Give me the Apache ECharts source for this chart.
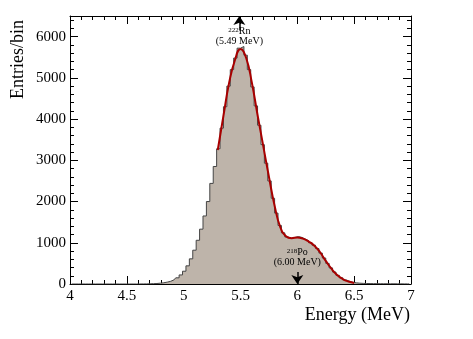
<!DOCTYPE html>
<html>
<head>
<meta charset="utf-8">
<script src="https://cdn.jsdelivr.net/npm/echarts@6/dist/echarts.min.js"></script>
<style>
  html, body { margin: 0; padding: 0; background: #fff; }
  #chart { width: 473px; height: 339px; }
</style>
</head>
<body>
<div id="chart"></div>
<script>
// histogram binning: 100 bins from 4 to 7 MeV
const binLow = 4.0
const binWidth = 0.03
const counts = [
  0, 0, 0, 0, 0, 0, 0, 0, 0, 0,
  0, 0, 0, 0, 0, 0, 0, 0, 0, 0,
  1, 2, 3, 5, 8, 12, 20, 30, 45, 65,
  100, 150, 220, 310, 440, 610, 820, 1060, 1330, 1650,
  2000, 2440, 2850, 3280, 3780, 4300, 4800, 5200, 5480, 5720,
  5760, 5550, 5200, 4780, 4320, 3850, 3380, 2930, 2500, 2080,
  1720, 1420, 1240, 1140, 1110, 1130, 1150, 1130, 1090, 1050,
  1000, 940, 860, 750, 630, 500, 390, 290, 210, 150,
  100, 65, 42, 28, 20, 15, 12, 10, 9, 8,
  7, 6, 6, 5, 5, 4, 4, 3, 3, 2
]

// fit curve
const fitEnergy = [5.30, 5.35, 5.40, 5.45, 5.50, 5.55, 5.60, 5.65, 5.70, 5.75, 5.80, 5.85, 5.90,
  5.95, 6.00, 6.05, 6.10, 6.15, 6.20, 6.25, 6.30, 6.35, 6.40, 6.45, 6.50]
const fitValues = [3250, 4080, 4880, 5420, 5700, 5480, 4880, 4100, 3350, 2600, 1900, 1380, 1160,
  1110, 1130, 1100, 1030, 930, 770, 560, 370, 220, 120, 60, 25]

// peak annotations
const peakEnergy = [5.49, 6.00]
const peakIsotope = ['Rn', 'Po']
const peakMass = ['222', '218']

const font = 'Liberation Serif'

const histData = counts.map((c, i) => [binLow + binWidth * (i + 0.5), c])
const fitData = fitEnergy.map((e, i) => [e, fitValues[i]])

const chart = echarts.init(document.getElementById('chart'))

const xCommon = {
  type: 'value', min: 4, max: 7, interval: 0.5,
  axisLine: { show: true, onZero: false, lineStyle: { color: '#000', width: 1 } },
  axisTick: { show: true, inside: true, length: 8, lineStyle: { color: '#000' } },
  minorTick: { show: true, splitNumber: 5, length: 4, lineStyle: { color: '#000' } },
  splitLine: { show: false }
}
const yCommon = {
  type: 'value', min: 0, max: 6500, interval: 1000,
  axisLine: { show: true, onZero: false, lineStyle: { color: '#000', width: 1 } },
  axisTick: { show: true, inside: true, length: 8, lineStyle: { color: '#000' } },
  minorTick: { show: true, splitNumber: 5, length: 4, lineStyle: { color: '#000' } },
  splitLine: { show: false }
}

const labelText = (i) => '{s|' + peakMass[i] + '}{n|' + peakIsotope[i] + '}\n{n|(' + peakEnergy[i].toFixed(2) + ' MeV)}'
const rich = {
  s: { fontFamily: font, fontSize: 7, color: '#000', verticalAlign: 'top', lineHeight: 10 },
  n: { fontFamily: font, fontSize: 10, color: '#000', lineHeight: 10 }
}

chart.setOption({
  animation: false,
  grid: { left: 70, right: 62, top: 16, bottom: 55, containLabel: false },
  xAxis: [
    Object.assign({}, xCommon, {
      position: 'bottom',
      axisLabel: { show: true, margin: 5, fontFamily: font, fontSize: 15, color: '#000' }
    }),
    Object.assign({}, xCommon, { position: 'top', axisLabel: { show: false } })
  ],
  yAxis: [
    Object.assign({}, yCommon, {
      position: 'left',
      axisLabel: {
        show: true, margin: 4, fontFamily: font, fontSize: 15, color: '#000', showMaxLabel: false,
        formatter: (v) => String(v)
      }
    }),
    Object.assign({}, yCommon, { position: 'right', axisLabel: { show: false } })
  ],
  series: [
    {
      name: 'hist',
      type: 'line',
      step: 'middle',
      data: histData,
      showSymbol: false,
      lineStyle: { color: '#444', width: 1 },
      areaStyle: { color: '#beb4aa', opacity: 1 },
      z: 2,
      markLine: {
        silent: true,
        symbol: ['none', 'arrow'],
        symbolSize: 9,
        label: { show: false },
        lineStyle: { color: '#000', width: 1.5, type: 'solid' },
        data: [
          [{ coord: [peakEnergy[0], 6150] }, { coord: [peakEnergy[0], 6500] }],
          [{ coord: [peakEnergy[1], 290] }, { coord: [peakEnergy[1], 0] }]
        ]
      },
      markPoint: {
        silent: true,
        symbol: 'circle',
        symbolSize: 0,
        data: [
          { coord: [peakEnergy[0], 6000], label: { show: true, position: 'inside', formatter: labelText(0), rich: rich, align: 'center' } },
          { coord: [peakEnergy[1], 640], label: { show: true, position: 'inside', formatter: labelText(1), rich: rich, align: 'center' } }
        ]
      }
    },
    {
      name: 'fit',
      type: 'line',
      data: fitData,
      smooth: true,
      showSymbol: false,
      lineStyle: { color: '#a80000', width: 2 },
      z: 3
    }
  ],
  graphic: [
    {
      type: 'text', left: 9, top: 20, rotation: Math.PI / 2,
      style: { text: 'Entries/bin', fontFamily: font, fontSize: 18, fill: '#000' }
    },
    {
      type: 'text', right: 63, top: 306,
      style: { text: 'Energy (MeV)', fontFamily: font, fontSize: 18, fill: '#000' }
    }
  ]
})
</script>
</body>
</html>
